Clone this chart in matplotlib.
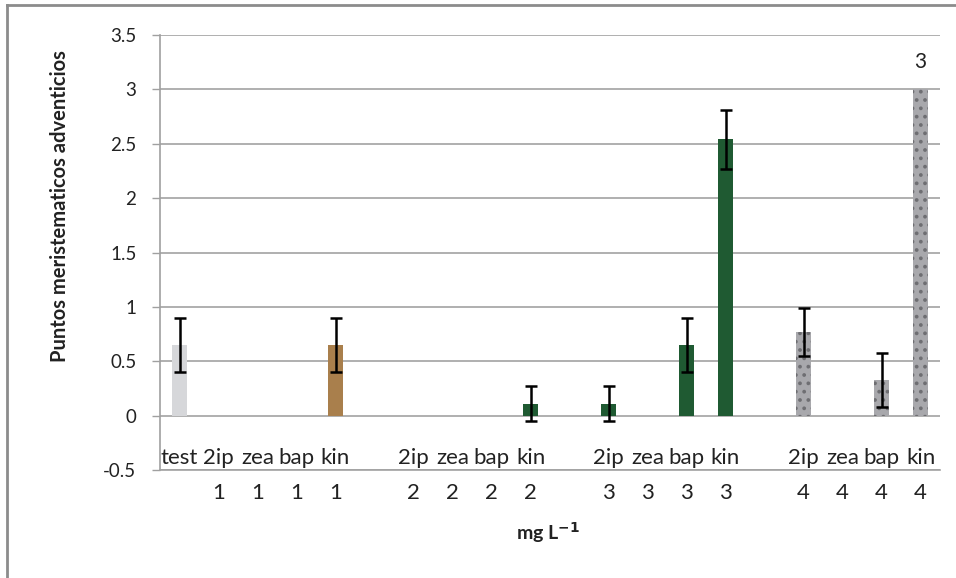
import matplotlib
matplotlib.use("Agg")
import matplotlib.pyplot as plt
from matplotlib.lines import Line2D

# hormone / concentration (mg L-1) categories, two-level axis
hormone = ['test', '2ip', 'zea', 'bap', 'kin', '',
           '2ip', 'zea', 'bap', 'kin', '',
           '2ip', 'zea', 'bap', 'kin', '',
           '2ip', 'zea', 'bap', 'kin']
dose = ['', '1', '1', '1', '1', '',
        '2', '2', '2', '2', '',
        '3', '3', '3', '3', '',
        '4', '4', '4', '4']
puntos = [0.65, 0, 0, 0, 0.65, 0,
          0, 0, 0, 0.11, 0,
          0.11, 0, 0.65, 2.54, 0,
          0.77, 0, 0.33, 3.0]
err = [0.25, 0, 0, 0, 0.25, 0,
       0, 0, 0, 0.16, 0,
       0.16, 0, 0.25, 0.27, 0,
       0.22, 0, 0.25, 0]
bar_colors = ['#d6d7da', '#ffffff', '#ffffff', '#ffffff', '#a97f4c', '#ffffff',
              '#1f5a32', '#1f5a32', '#1f5a32', '#1f5a32', '#ffffff',
              '#1f5a32', '#1f5a32', '#1f5a32', '#1f5a32', '#ffffff',
              '#a8a8ac', '#a8a8ac', '#a8a8ac', '#a8a8ac']

plt.rcParams['font.family'] = ['Lato', 'DejaVu Sans']
plt.rcParams['hatch.linewidth'] = 1.5

fig = plt.figure(figsize=(9.56, 5.78), dpi=100)
ax = fig.add_axes([160 / 956, 1 - 470 / 578, 780 / 956, 435 / 578])

x = list(range(len(hormone)))
bars = ax.bar(x, puntos, width=0.4, color=bar_colors, linewidth=0, zorder=2)
# speckled (granite-like) fill for the 4 mg L-1 group
for b in bars[16:]:
    b.set_hatch('..')
    b.set_edgecolor('#6e6e72')

# error bars only where there is a bar with error
ex = [i for i in x if err[i] > 0]
ax.errorbar(ex, [puntos[i] for i in ex], yerr=[err[i] for i in ex],
            fmt='none', ecolor='black', elinewidth=1.8, capsize=4.5,
            capthick=1.8, zorder=3)

ax.annotate('3', (x[-1], puntos[-1]), xytext=(0, 20), textcoords='offset points',
            ha='center', va='center', fontsize=15, color='#222222')

ax.set_xlim(-0.5, len(x) - 0.5)
ax.set_ylim(-0.5, 3.5)
ax.set_yticks([-0.5, 0, 0.5, 1, 1.5, 2, 2.5, 3, 3.5])
ax.set_yticklabels(['-0.5', '0', '0.5', '1', '1.5', '2', '2.5', '3', '3.5'])
ax.tick_params(axis='y', length=6, width=1, color='#a0a0a0', pad=11,
               labelsize=13.5, labelcolor='#222222')
ax.set_xticks([])
ax.grid(axis='y', color='#a2a2a2', linewidth=1.2, zorder=0)
ax.set_axisbelow(True)
for s in ['top', 'right']:
    ax.spines[s].set_visible(False)
ax.spines['left'].set_color('#a0a0a0')
ax.spines['left'].set_linewidth(1.2)
ax.spines['bottom'].set_color('#a2a2a2')
ax.spines['bottom'].set_linewidth(1.2)

tr = ax.get_xaxis_transform()
for i in x:
    ax.text(i, 0.028, hormone[i], transform=tr, ha='center', va='center',
            fontsize=16, color='#222222')
    ax.text(i, -0.052, dose[i], transform=tr, ha='center', va='center',
            fontsize=16, color='#222222')

fig.text(60 / 956, 1 - 206 / 578, 'Puntos meristematicos adventicios',
         rotation=90, ha='center', va='center', fontsize=14.5,
         fontweight='bold', color='#222222')
fig.text(548 / 956, 1 - 533 / 578, r'mg L$^{\mathbf{-1}}$', ha='center',
         va='center', fontsize=14, fontweight='bold', color='#222222')

# chart area border (only top and left visible in the crop)
fig.add_artist(Line2D([7 / 956, 7 / 956], [0, 1 - 5 / 578],
                      transform=fig.transFigure, color='#8c8c8c', linewidth=2))
fig.add_artist(Line2D([7 / 956, 1], [1 - 5 / 578, 1 - 5 / 578],
                      transform=fig.transFigure, color='#8c8c8c', linewidth=2))

fig.savefig('out.png', dpi=100)
